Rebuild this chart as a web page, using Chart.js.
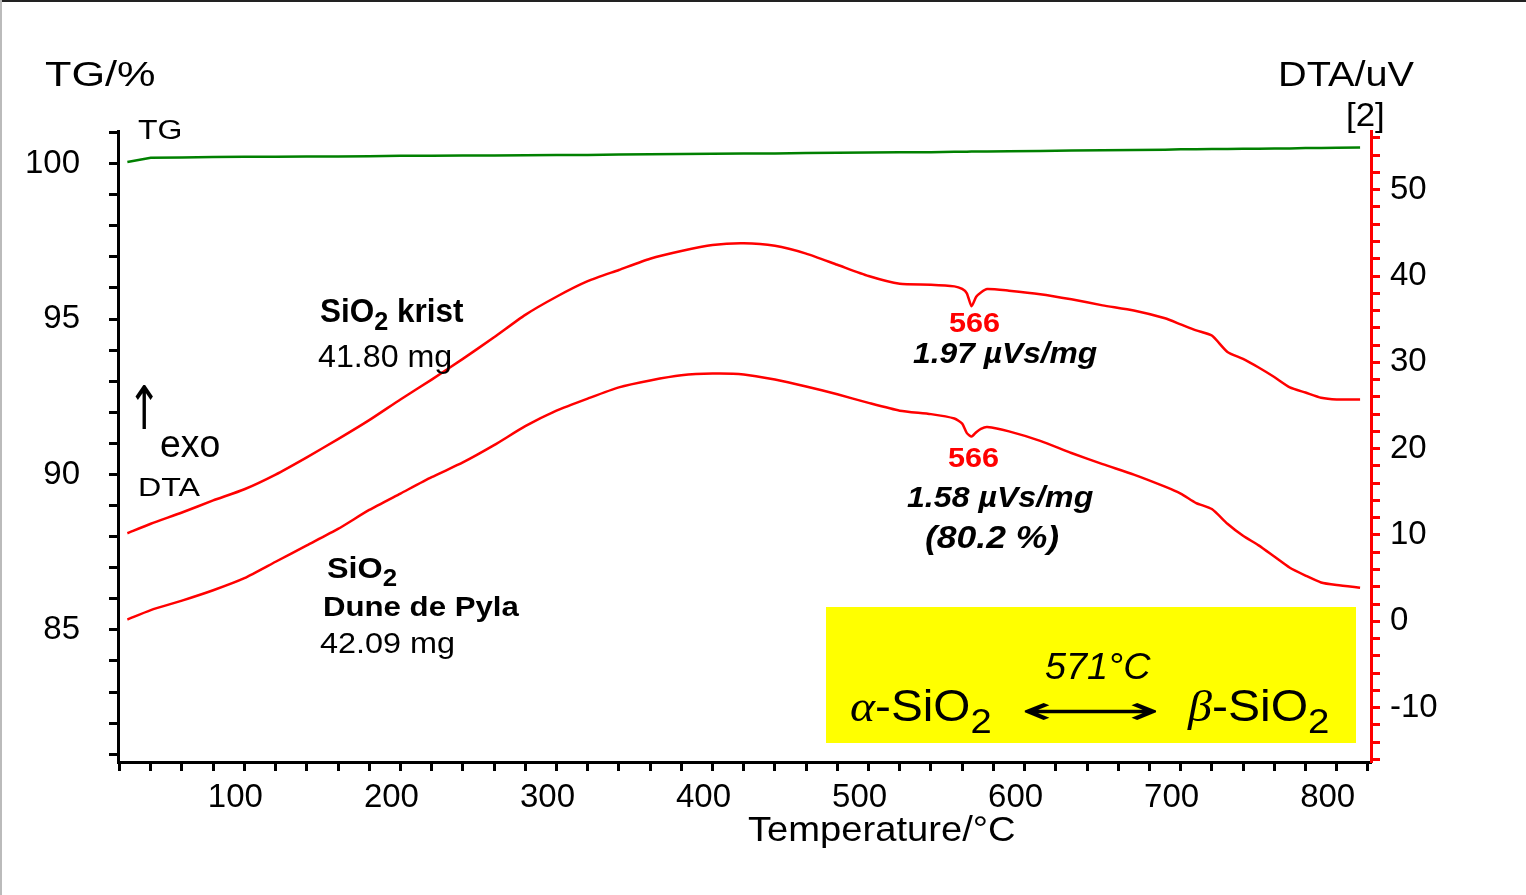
<!DOCTYPE html>
<html>
<head>
<meta charset="utf-8">
<script src="https://cdn.jsdelivr.net/npm/chart.js@4.4.1/dist/chart.umd.min.js"></script>
<style>
  html, body { margin: 0; padding: 0; background: #fff; }
  #wrap { position: relative; width: 1526px; height: 895px; overflow: hidden; background: #fff; }
  #topline { position: absolute; left: 0; top: 0; width: 1526px; height: 2px; background: #222; }
  #leftline { position: absolute; left: 0; top: 0; width: 2px; height: 895px; background: #bbb; }
  #box { position: absolute; left: 826px; top: 607px; width: 530px; height: 136px; background: #ffff00; }
  canvas { position: absolute; left: 0; top: 0; }
  .t { position: absolute; white-space: nowrap; line-height: 1; font-family: 'Liberation Sans', Arial, sans-serif; color: #000; transform-origin: 0 0; }
  .b { font-weight: bold; }
  .i { font-style: italic; }
  .red { color: #ff0000; }
  .s2 { position: relative; top: 0.33em; font-size: 0.8em; }
  .gr { font-family: 'Liberation Serif', serif; font-style: italic; }
</style>
</head>
<body>
<div id="wrap">
  <div id="box"></div>
  <canvas id="dtaChart" width="1526" height="895"></canvas>
  <div id="topline"></div>
  <div id="leftline"></div>

  <!-- axis titles -->
  <div class="t" data-w="110" style="left:45px; top:55.5px; font-size:35px;">TG/%</div>
  <div class="t" data-w="136" style="left:1278px; top:55.5px; font-size:35px;">DTA/uV</div>
  <div class="t" data-w="39" style="left:1346px; top:96.6px; font-size:34px;">[2]</div>
  <div class="t" data-w="267" style="left:748px; top:810.5px; font-size:35px;">Temperature/°C</div>

  <!-- curve labels -->
  <div class="t" data-w="45" style="left:138px; top:116.5px; font-size:27px;">TG</div>
  <div class="t" data-w="34" style="left:127px; top:378px; font-size:60px; font-family:'DejaVu Sans';">↑</div>
  <div class="t" data-w="60" style="left:160px; top:424.8px; font-size:38px;">exo</div>
  <div class="t" data-w="62" style="left:138px; top:473.6px; font-size:26.5px;">DTA</div>

  <div class="t b" data-w="143" style="left:320px; top:293.7px; font-size:33px;">SiO<span class="s2">2</span> krist</div>
  <div class="t" data-w="134" style="left:318px; top:341px; font-size:31px;">41.80 mg</div>

  <div class="t b" data-w="70" style="left:327px; top:553px; font-size:30px;">SiO<span class="s2">2</span></div>
  <div class="t b" data-w="196" style="left:323px; top:593.4px; font-size:28px;">Dune de Pyla</div>
  <div class="t" data-w="135" style="left:320px; top:628px; font-size:30px;">42.09 mg</div>

  <div class="t b red" data-w="51" style="left:949px; top:309.5px; font-size:27px;">566</div>
  <div class="t b i" data-w="184" style="left:913px; top:339.2px; font-size:29px;">1.97 µVs/mg</div>
  <div class="t b red" data-w="51" style="left:948px; top:444.5px; font-size:27px;">566</div>
  <div class="t b i" data-w="186" style="left:907px; top:483.2px; font-size:29px;">1.58 µVs/mg</div>
  <div class="t b i" data-w="134" style="left:925px; top:522px; font-size:31px;">(80.2 %)</div>

  <!-- transition box text -->
  <div class="t i" data-w="105" style="left:1045px; top:649.3px; font-size:36px;">571°C</div>
  <div class="t" data-w="142" style="left:850px; top:684.3px; font-size:44px;"><span class="gr">α</span>-SiO<span class="s2">2</span></div>
  <div class="t" data-w="140" style="left:1020px; top:690px; font-size:40px; font-family:'DejaVu Sans';">⟷</div>
  <div class="t" data-w="142" style="left:1188px; top:684.3px; font-size:44px;"><span class="gr">β</span>-SiO<span class="s2">2</span></div>
</div>

<script>
// temperature grid (°C)
const temps = [25, 40, 60, 80, 100, 120, 140, 160, 180, 200, 220, 240, 260, 280, 300, 320, 340, 360, 380, 400,
  420, 440, 460, 480, 500, 520, 540, 555, 560, 563, 566, 569, 572, 576, 590, 610, 630, 650, 670, 690,
  700, 710, 720, 730, 740, 750, 760, 770, 780, 790, 800, 815];

// TG curve (%)
const tgValues = [100.05, 100.19, 100.2, 100.21, 100.22, 100.22, 100.23, 100.23, 100.24, 100.25, 100.25, 100.26, 100.26, 100.27, 100.28, 100.28, 100.29, 100.3, 100.31, 100.32,
  100.33, 100.33, 100.34, 100.35, 100.36, 100.37, 100.37, 100.38, 100.38, 100.38, 100.39, 100.39, 100.39, 100.39, 100.4, 100.41, 100.42, 100.43, 100.44, 100.45,
  100.46, 100.46, 100.47, 100.47, 100.48, 100.48, 100.49, 100.49, 100.5, 100.5, 100.51, 100.52];

// DTA, SiO2 krist 41.80 mg (uV)
const dtaKrist = [10.2, 11.3, 12.6, 14.0, 15.3, 17.0, 19.0, 21.1, 23.3, 25.7, 28.0, 30.4, 32.9, 35.5, 37.6, 39.4, 40.7, 42.0, 42.9, 43.6,
  43.8, 43.5, 42.6, 41.3, 40.0, 39.1, 39.0, 38.8, 38.5, 38.0, 36.5, 37.6, 38.1, 38.5, 38.3, 37.9, 37.3, 36.6, 36.0, 35.1,
  34.4, 33.7, 33.1, 31.2, 30.4, 29.4, 28.3, 27.1, 26.5, 25.9, 25.7, 25.7];

// DTA, SiO2 Dune de Pyla 42.09 mg (uV)
const dtaPyla = [0.2, 1.3, 2.4, 3.6, 5.0, 6.9, 8.8, 10.7, 12.9, 14.8, 16.7, 18.4, 20.4, 22.6, 24.4, 25.8, 27.1, 27.9, 28.5, 28.7,
  28.6, 28.0, 27.2, 26.3, 25.3, 24.4, 24.0, 23.5, 22.9, 21.8, 21.4, 21.9, 22.3, 22.5, 22.0, 20.9, 19.5, 18.2, 17.0, 15.6,
  14.8, 13.7, 13.0, 11.3, 9.9, 8.8, 7.5, 6.2, 5.3, 4.5, 4.2, 3.9];

const xLabels = [100, 200, 300, 400, 500, 600, 700, 800];
const tgLabels = [85, 90, 95, 100];
const dtaLabels = [-10, 0, 10, 20, 30, 40, 50];

const toPoints = (ys) => temps.map((t, i) => ({ x: t, y: ys[i] }));
const tickFont = { family: "'Liberation Sans', Arial, sans-serif", size: 33 };

const ctx = document.getElementById('dtaChart').getContext('2d');
const dtaChart = new Chart(ctx, {
  type: 'line',
  data: {
    datasets: [
      {
        label: 'TG',
        data: toPoints(tgValues),
        yAxisID: 'yTG',
        borderColor: '#008000',
        borderWidth: 2.5,
        pointRadius: 0,
        tension: 0
      },
      {
        label: 'SiO2 krist',
        data: toPoints(dtaKrist),
        yAxisID: 'yDTA',
        borderColor: '#ff0000',
        borderWidth: 2.5,
        pointRadius: 0,
        tension: 0.2
      },
      {
        label: 'SiO2 Dune de Pyla',
        data: toPoints(dtaPyla),
        yAxisID: 'yDTA',
        borderColor: '#ff0000',
        borderWidth: 2.5,
        pointRadius: 0,
        tension: 0.2
      }
    ]
  },
  options: {
    responsive: false,
    animation: false,
    layout: { padding: { top: 131, left: 0, right: 0, bottom: 0 } },
    plugins: { legend: { display: false }, tooltip: { enabled: false } },
    scales: {
      x: {
        type: 'linear',
        min: 19,
        max: 822,
        afterFit: (scale) => { scale.height = 133; },
        border: { color: '#000', width: 3 },
        grid: { drawOnChartArea: false, tickLength: 9, tickWidth: 3, tickColor: '#000' },
        ticks: {
          stepSize: 20,
          includeBounds: false,
          autoSkip: false,
          maxRotation: 0,
          padding: 7,
          labelOffset: -9,
          color: '#000',
          font: tickFont,
          callback: (v) => xLabels.includes(v) ? String(v) : ''
        }
      },
      yTG: {
        position: 'left',
        min: 80.75,
        max: 101.05,
        afterFit: (scale) => { scale.width = 118; },
        border: { color: '#000', width: 3 },
        grid: { drawOnChartArea: false, tickLength: 9, tickWidth: 3, tickColor: '#000' },
        ticks: {
          stepSize: 1,
          includeBounds: false,
          autoSkip: false,
          padding: 29,
          color: '#000',
          font: tickFont,
          callback: (v) => tgLabels.includes(Math.round(v * 100) / 100) ? String(v) : ''
        }
      },
      yDTA: {
        position: 'right',
        min: -16.3,
        max: 56.8,
        afterFit: (scale) => { scale.width = 155; },
        border: { color: '#ff0000', width: 3 },
        grid: { drawOnChartArea: false, tickLength: 9, tickWidth: 3, tickColor: '#ff0000' },
        ticks: {
          stepSize: 2,
          includeBounds: false,
          autoSkip: false,
          padding: 10,
          color: '#000',
          font: tickFont,
          callback: (v) => dtaLabels.includes(Math.round(v * 100) / 100) ? String(v) : ''
        }
      }
    }
  }
});

// squeeze overlay texts to the widths seen in the original
function fitTexts() {
  document.querySelectorAll('.t[data-w]').forEach((el) => {
    el.style.transform = 'none';
    const w = el.offsetWidth;
    if (w > 0) el.style.transform = 'scaleX(' + (Number(el.dataset.w) / w) + ')';
  });
}
fitTexts();
if (document.fonts && document.fonts.ready) document.fonts.ready.then(fitTexts);
</script>
</body>
</html>
